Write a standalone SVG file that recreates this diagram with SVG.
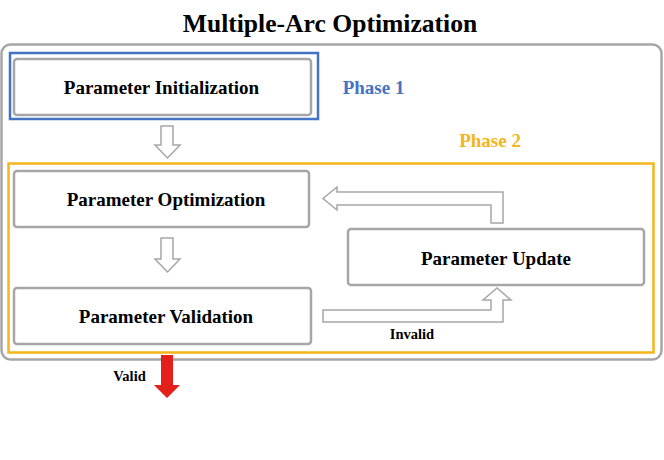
<svg xmlns="http://www.w3.org/2000/svg" width="664" height="460" viewBox="0 0 664 460">
<style>
.box{fill:#fff;stroke:#a6a6a6;stroke-width:2.5}
.t{font-family:"Liberation Serif",serif;font-weight:bold;font-size:19px;fill:#000;text-anchor:middle}
.hol{fill:#fff;stroke:#a6a6a6;stroke-width:1.5;stroke-linejoin:miter}
</style>
<rect width="664" height="460" fill="#fff"/>
<text x="330" y="32" class="t" style="font-size:25.6px">Multiple-Arc Optimization</text>
<g id="outer"><rect x="1.5" y="44.5" width="660" height="315" rx="9" fill="none" stroke="#a6a6a6" stroke-width="2.5"/></g>
<g id="phase1"><rect x="10" y="53" width="308" height="66" fill="none" stroke="#4472c4" stroke-width="2.5"/>
<text x="373.5" y="94" class="t" style="fill:#4472c4">Phase 1</text></g>
<g id="phase2"><rect x="8.5" y="163.5" width="645" height="189" fill="none" stroke="#f5b51b" stroke-width="2.5"/>
<text x="490" y="147" class="t" style="fill:#f5b51b">Phase 2</text></g>
<g id="init"><rect class="box" x="14" y="59" width="297" height="56" rx="3"/><text x="161.5" y="94" class="t">Parameter Initialization</text></g>
<g id="opt"><rect class="box" x="14" y="171" width="295" height="56" rx="3"/><text x="166" y="206" class="t">Parameter Optimization</text></g>
<g id="val"><rect class="box" x="14" y="288" width="297" height="56" rx="3"/><text x="166" y="323" class="t">Parameter Validation</text></g>
<g id="upd"><rect class="box" x="348" y="229" width="296" height="56" rx="3"/><text x="496" y="265" class="t">Parameter Update</text></g>
<g id="connectors">
<path class="hol" d="M161,126 H173 V145 H180 L167.5,158 L155,145 H161 Z"/>
<path class="hol" d="M161,238 H173 V259 H180 L167.5,272 L155,259 H161 Z"/>
<path class="hol" d="M503,223 H491 V205 H337 V210 L323,198.5 L337,187 V192 H503 Z"/>
<path class="hol" d="M323,322 V310 H491 V300 H483 L497,288 L511,300 H503 V322 Z"/>
<path d="M161,355 H173 V385 H180 L167,398 L154,385 H161 Z" fill="#e3201b"/>
<text x="412" y="339" class="t" style="font-size:14.5px">Invalid</text>
<text x="129.5" y="381" class="t" style="font-size:14.5px">Valid</text>
</g>
</svg>
